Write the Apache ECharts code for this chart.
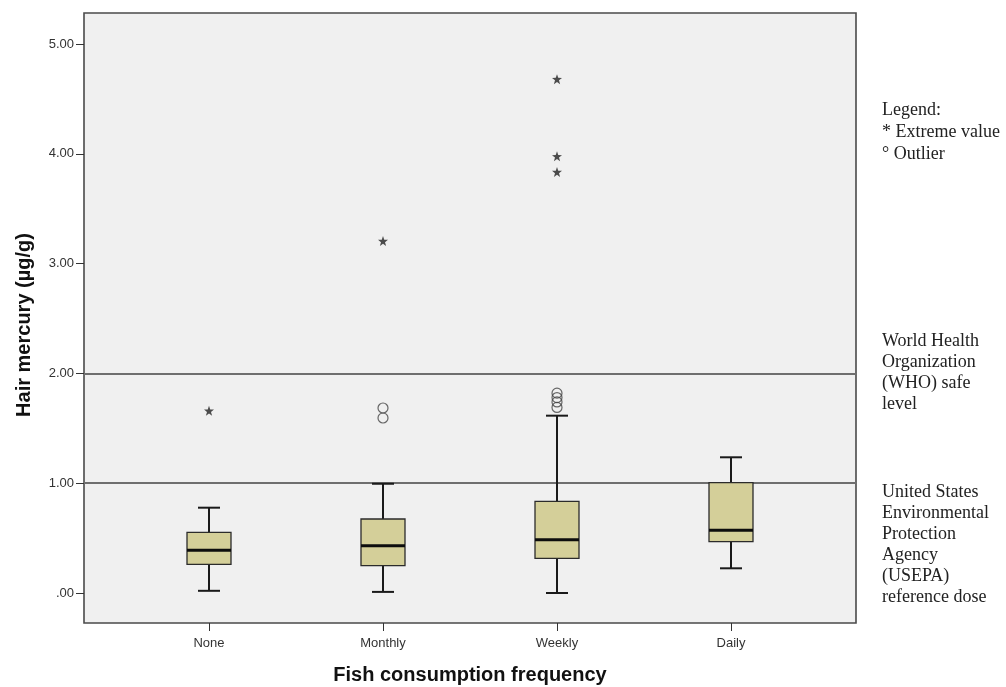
<!DOCTYPE html>
<html>
<head>
<meta charset="utf-8">
<script src="https://cdn.jsdelivr.net/npm/echarts@6/dist/echarts.min.js"></script>
<style>html,body{margin:0;padding:0;background:#fff;}#c{width:1006px;height:687px;}</style>
</head>
<body>
<div id="c"></div>
<script>
const categories = ['None', 'Monthly', 'Weekly', 'Daily'];
const boxLow    = [0.02, 0.01, 0.00, 0.225];
const boxQ1     = [0.26, 0.25, 0.315, 0.467];
const boxMedian = [0.39, 0.43, 0.486, 0.571];
const boxQ3     = [0.553, 0.674, 0.835, 1.005];
const boxHigh   = [0.777, 0.995, 1.615, 1.236];
const outliers  = [[1, 1.685], [1, 1.594], [2, 1.82], [2, 1.78], [2, 1.74], [2, 1.69]];
const extremes  = [[0, 1.66], [1, 3.206], [2, 4.68], [2, 3.977], [2, 3.834]];
const referenceLines = [1, 2];
const yMin = 0, yMax = 5, yInterval = 1;
const yLo = -30 / 109.8, yHi = 5 + 31 / 109.8;
const legendLines = ['Legend:', '* Extreme value', '\u00B0 Outlier'];
const whoLines = ['World Health', 'Organization', '(WHO) safe', 'level'];
const usLines = ['United States', 'Environmental', 'Protection', 'Agency', '(USEPA)', 'reference dose'];

const boxData = categories.map((c, i) => [i, boxLow[i], boxQ1[i], boxMedian[i], boxQ3[i], boxHigh[i]]);

const starPath = 'path://M0,-10 L2.35,-3.24 L9.51,-3.09 L3.8,1.24 L5.88,8.09 L0,4 L-5.88,8.09 L-3.8,1.24 L-9.51,-3.09 L-2.35,-3.24 Z';
const sans = 'Liberation Sans, Arial, sans-serif';

function textBlock(lines, x, y0, step) {
  return lines.map((t, i) => ({
    type: 'text', x: x, y: y0 + i * step, silent: true,
    style: { text: t, font: '18px "Liberation Serif", serif', fill: '#222', textAlign: 'left', textVerticalAlign: 'middle' }
  }));
}

const chart = echarts.init(document.getElementById('c'));
chart.setOption({
  animation: false,
  backgroundColor: '#ffffff',
  grid: [
    { left: 84, top: 13, width: 772, height: 610, show: true, backgroundColor: '#f0f0f0', borderColor: '#4a4a4a', borderWidth: 1.6, outerBoundsMode: 'none', containLabel: false },
    { left: 84, top: 44, width: 772, height: 549, show: false, outerBoundsMode: 'none', containLabel: false },
    { left: 122, top: 44, width: 696, height: 549, show: false, outerBoundsMode: 'none', containLabel: false }
  ],
  xAxis: [
    { gridIndex: 0, type: 'value', min: 0, max: 1, show: false },
    { gridIndex: 1, type: 'value', min: 0, max: 1, show: false },
    {
      gridIndex: 2, type: 'category', data: categories, offset: 30,
      axisLine: { show: false, onZero: false },
      axisTick: { show: true, alignWithLabel: true, length: 8, lineStyle: { color: '#333', width: 1 } },
      axisLabel: { color: '#333', fontSize: 13, fontFamily: sans, margin: 14 },
      name: 'Fish consumption frequency', nameLocation: 'middle', nameGap: 42,
      nameTextStyle: { color: '#111', fontSize: 20, fontWeight: 'bold', fontFamily: sans }
    }
  ],
  yAxis: [
    { gridIndex: 0, type: 'value', min: yLo, max: yHi, show: false },
    {
      gridIndex: 1, type: 'value', min: yMin, max: yMax, interval: yInterval,
      axisLine: { show: false },
      axisTick: { show: true, length: 8, lineStyle: { color: '#333', width: 1 } },
      splitLine: { show: false },
      axisLabel: { color: '#333', fontSize: 13, fontFamily: sans, margin: 10,
        formatter: v => v === 0 ? '.00' : v.toFixed(2) }
    },
    { gridIndex: 2, type: 'value', min: yMin, max: yMax, interval: yInterval, show: false }
  ],
  series: [
    {
      type: 'line', xAxisIndex: 0, yAxisIndex: 0, data: [], z: 1,
      markLine: {
        symbol: 'none', silent: true, label: { show: false },
        lineStyle: { color: '#6e6e6e', width: 2, type: 'solid' },
        data: referenceLines.map(v => ({ yAxis: v }))
      }
    },
    {
      type: 'custom', xAxisIndex: 2, yAxisIndex: 2, z: 5,
      data: boxData,
      encode: { x: 0, y: [1, 2, 3, 4, 5] },
      renderItem: function (params, api) {
        const x = api.value(0);
        const pLow = api.coord([x, api.value(1)]);
        const pQ1 = api.coord([x, api.value(2)]);
        const pMed = api.coord([x, api.value(3)]);
        const pQ3 = api.coord([x, api.value(4)]);
        const pHigh = api.coord([x, api.value(5)]);
        const cx = pLow[0], hw = 22, cw = 11;
        const wStyle = { stroke: '#1a1a1a', lineWidth: 2 };
        return {
          type: 'group',
          children: [
            { type: 'line', shape: { x1: cx, y1: pHigh[1], x2: cx, y2: pQ3[1] }, style: wStyle },
            { type: 'line', shape: { x1: cx, y1: pQ1[1], x2: cx, y2: pLow[1] }, style: wStyle },
            { type: 'line', shape: { x1: cx - cw, y1: pHigh[1], x2: cx + cw, y2: pHigh[1] }, style: wStyle },
            { type: 'line', shape: { x1: cx - cw, y1: pLow[1], x2: cx + cw, y2: pLow[1] }, style: wStyle },
            { type: 'rect', shape: { x: cx - hw, y: pQ3[1], width: 2 * hw, height: pQ1[1] - pQ3[1] },
              style: { fill: '#d4cf99', stroke: '#2b2b2b', lineWidth: 1.3 } },
            { type: 'line', shape: { x1: cx - hw, y1: pMed[1], x2: cx + hw, y2: pMed[1] },
              style: { stroke: '#0d0d0d', lineWidth: 3 } }
          ]
        };
      }
    },
    {
      type: 'scatter', xAxisIndex: 2, yAxisIndex: 2, z: 6,
      data: outliers, symbol: 'circle', symbolSize: 10,
      itemStyle: { color: 'rgba(0,0,0,0)', borderColor: '#444', borderWidth: 1.2 }
    },
    {
      type: 'scatter', xAxisIndex: 2, yAxisIndex: 2, z: 6,
      data: extremes, symbol: starPath, symbolSize: 10,
      itemStyle: { color: '#222' }
    }
  ],
  graphic: [
    {
      type: 'text', x: 24, y: 325, rotation: Math.PI / 2, silent: true,
      style: { text: 'Hair mercury (\u00B5g/g)', font: 'bold 20px "Liberation Sans", Arial, sans-serif', fill: '#111',
        textAlign: 'center', textVerticalAlign: 'middle' }
    }
  ].concat(
    textBlock(legendLines, 882, 110, 22),
    textBlock(whoLines, 882, 341, 21),
    textBlock(usLines, 882, 492, 21)
  )
});
</script>
</body>
</html>
